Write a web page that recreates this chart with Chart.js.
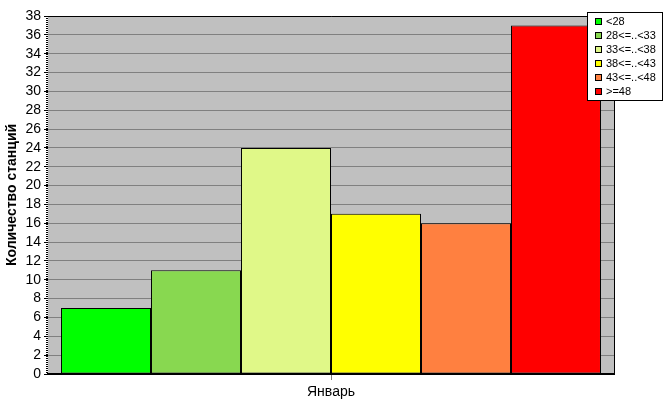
<!DOCTYPE html>
<html>
<head>
<meta charset="utf-8">
<script src="https://cdn.jsdelivr.net/npm/chart.js@4/dist/chart.umd.min.js"></script>
<style>
  body { margin: 0; background: #fff; }
  #wrap { width: 667px; height: 415px; }
</style>
</head>
<body>
<div id="wrap"><canvas id="grafico" width="667" height="415"></canvas></div>
<script>
// datos del grafico
const meses = ["Январь"];
const rangos = ["<28", "28<=..<33", "33<=..<38", "38<=..<43", "43<=..<48", ">=48"];
const estaciones = [7, 11, 24, 17, 16, 37];
const colores = ["#00ff00", "#88d850", "#e0f888", "#ffff00", "#ff8040", "#ff0000"];
const yTicks = [0, 2, 4, 6, 8, 10, 12, 14, 16, 18, 20, 22, 24, 26, 28, 30, 32, 34, 36, 38];

const datasets = rangos.map((r, i) => ({
  label: r,
  data: [estaciones[i]],
  backgroundColor: colores[i],
  borderColor: "#000",
  borderWidth: 1,
  borderSkipped: false,
  barPercentage: 1,
  categoryPercentage: 0.954
}));

// fondo gris y borde del area
const fondo = {
  id: "fondo",
  beforeDraw(chart) {
    const { ctx, chartArea: a } = chart;
    ctx.save();
    ctx.fillStyle = "#c0c0c0";
    ctx.fillRect(a.left, a.top, a.right - a.left, a.bottom - a.top);
    ctx.restore();
  },
  afterDatasetsDraw(chart) {
    const { ctx, chartArea: a } = chart;
    ctx.save();
    ctx.strokeStyle = "#000";
    ctx.lineWidth = 1;
    ctx.beginPath();
    ctx.moveTo(a.left, a.top + 0.5);
    ctx.lineTo(a.right + 0.5, a.top + 0.5);
    ctx.lineTo(a.right + 0.5, a.bottom);
    ctx.stroke();
    // eje y punteado
    ctx.lineWidth = 2;
    ctx.setLineDash([1, 1]);
    ctx.beginPath();
    ctx.moveTo(a.left - 1, a.top);
    ctx.lineTo(a.left - 1, a.bottom);
    ctx.stroke();
    ctx.restore();
  }
};

// leyenda en caja (dibujada a mano)
const leyenda = {
  id: "leyenda",
  afterDraw(chart) {
    const ctx = chart.ctx;
    const x = 587, y = 12, w = 75, h = 88;
    ctx.save();
    ctx.fillStyle = "#fff";
    ctx.fillRect(x, y, w, h);
    ctx.strokeStyle = "#000";
    ctx.lineWidth = 1;
    ctx.strokeRect(x + 0.5, y + 0.5, w, h);
    ctx.font = "11px 'Liberation Sans', Arial, sans-serif";
    ctx.textBaseline = "middle";
    chart.data.datasets.forEach((ds, i) => {
      const cy = y + 9 + i * 14;
      ctx.fillStyle = ds.backgroundColor;
      ctx.fillRect(x + 8, cy - 3, 7, 7);
      ctx.strokeRect(x + 8.5, cy - 2.5, 6, 6);
      ctx.fillStyle = "#000";
      ctx.fillText(ds.label, x + 19, cy + 1);
    });
    ctx.restore();
  }
};

const config = {
  type: "bar",
  data: { labels: meses, datasets: datasets },
  plugins: [fondo, leyenda],
  options: {
    responsive: false,
    animation: false,
    layout: { padding: { top: 16, right: 53, left: 0, bottom: 0 } },
    plugins: { legend: { display: false }, tooltip: { enabled: false } },
    scales: {
      x: {
        grid: { offset: false, drawOnChartArea: false, tickLength: 6, tickColor: "#808080" },
        border: { color: "#000", width: 2 },
        ticks: { color: "#000", font: { family: "'Liberation Sans', Arial", size: 14 }, padding: 4 },
        afterFit(s) { s.height = 41; }
      },
      y: {
        min: 0,
        max: 38,
        afterBuildTicks(s) { s.ticks = yTicks.map(v => ({ value: v })); },
        grid: { color: "#808080", tickColor: "#000", tickLength: 4 },
        border: { display: false },
        ticks: { color: "#000", autoSkip: false, font: { family: "'Liberation Sans', Arial", size: 14 }, padding: 3 },
        title: { display: true, text: "Количество станций", color: "#000", font: { family: "'Liberation Sans', Arial", size: 14, weight: "bold" }, padding: { top: 4, bottom: 0 } },
        afterFit(s) { s.width = 48; }
      }
    }
  }
};

new Chart(document.getElementById("grafico"), config);
</script>
</body>
</html>
